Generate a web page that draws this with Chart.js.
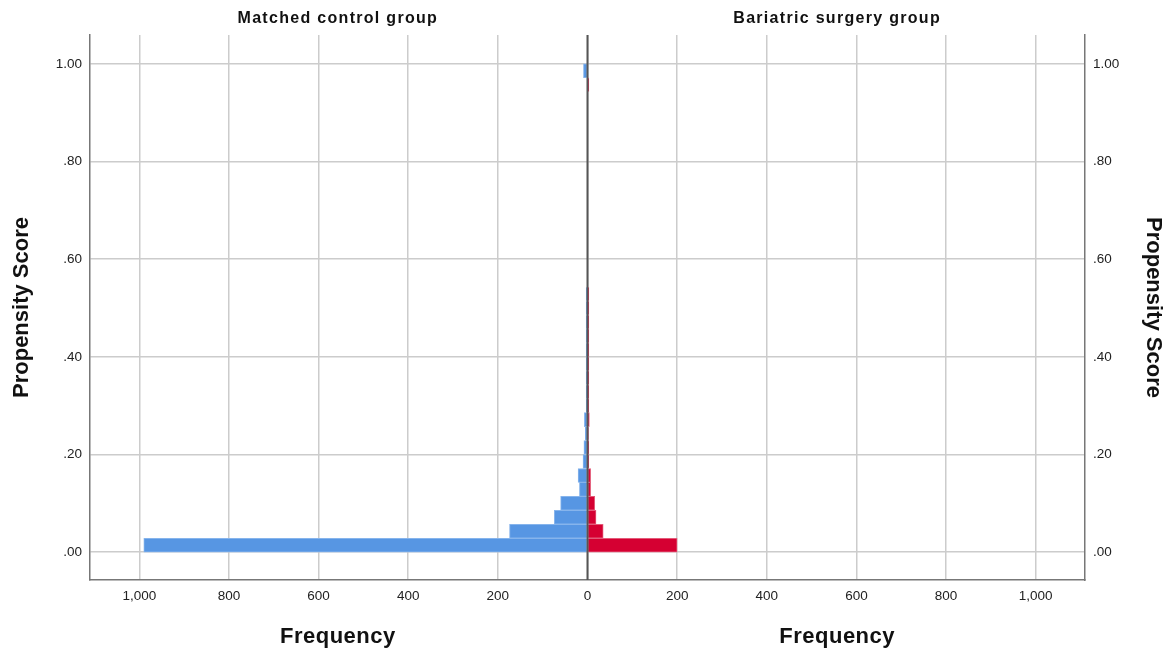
<!DOCTYPE html>
<html>
<head>
<meta charset="utf-8">
<script src="https://cdn.jsdelivr.net/npm/chart.js@4"></script>
<style>
  body { margin: 0; background: #fff; }
  #caja { width: 1175px; height: 658px; }
</style>
</head>
<body>
<div id="caja"><canvas id="grafica"></canvas></div>
<script>
// centros de los intervalos de propensity score (35 intervalos de 0 a 1)
var binCentros = [0.0143, 0.0429, 0.0714, 0.1000, 0.1286, 0.1571, 0.1857, 0.2143, 0.2429, 0.2714,
    0.3000, 0.3286, 0.3571, 0.3857, 0.4143, 0.4429, 0.4714, 0.5000, 0.5286, 0.5571,
    0.5857, 0.6143, 0.6429, 0.6714, 0.7000, 0.7286, 0.7571, 0.7857, 0.8143, 0.8429,
    0.8714, 0.9000, 0.9286, 0.9571, 0.9857];

// frecuencias del grupo control (izquierda)
var control = [990, 174, 74, 60, 18, 21, 10, 8, 5, 7,
    3, 3, 3, 3, 3, 3, 3, 3, 3, 0,
    0, 0, 0, 0, 0, 0, 0, 0, 0, 0,
    0, 0, 0, 0, 9];

// frecuencias del grupo cirugia bariatrica (derecha)
var cirugia = [200, 35, 19, 16, 7, 7, 3, 3, 2, 4,
    3, 3, 3, 3, 3, 3, 3, 3, 3, 0,
    0, 0, 0, 0, 0, 0, 0, 0, 0, 0,
    0, 0, 0, 3, 0];

// marcas de los ejes
var ticksX = [-1000, -800, -600, -400, -200, 0, 200, 400, 600, 800, 1000];
var ticksY = [0, 0.2, 0.4, 0.6, 0.8, 1.0];

var titulos = ['Matched control group', 'Bariatric surgery group'];
var tituloX = 'Frequency';
var tituloY = 'Propensity Score';

Chart.defaults.font.family = "'Liberation Sans', Arial, sans-serif";
Chart.defaults.color = '#222';

function puntos(valores, signo) {
    var arr = [];
    for (var i = 0; i < valores.length; i++) {
        arr.push({ x: signo * valores[i], y: binCentros[i] });
    }
    return arr;
}

function etiquetaY(v) {
    return v.toFixed(2).replace(/^0/, '');
}

// pone los ticks de la lista
function fijarTicks(lista) {
    return function (s) {
        s.ticks = lista.map(function (v) { return { value: v }; });
    };
}

// texto de los grupos, titulos de frecuencia y linea central
var extras = {
    id: 'extras',
    afterDatasetsDraw: function (chart) {
        var ctx = chart.ctx;
        var x = chart.scales.x;
        var area = chart.chartArea;
        var x0 = x.getPixelForValue(0);
        ctx.save();
        ctx.strokeStyle = '#555';
        ctx.lineWidth = 2;
        ctx.beginPath();
        ctx.moveTo(x0, area.top);
        ctx.lineTo(x0, area.bottom);
        ctx.stroke();
        ctx.restore();
    },
    afterDraw: function (chart) {
        var ctx = chart.ctx;
        var x = chart.scales.x;
        var izq = x.getPixelForValue(-557);
        var der = x.getPixelForValue(557);
        ctx.save();
        ctx.fillStyle = '#111';
        ctx.textAlign = 'center';
        ctx.textBaseline = 'middle';
        ctx.font = "bold 16px 'Liberation Sans', Arial, sans-serif";
        ctx.letterSpacing = '1.3px';
        ctx.fillText(titulos[0], izq, 19);
        ctx.fillText(titulos[1], der, 19);
        ctx.font = "bold 22px 'Liberation Sans', Arial, sans-serif";
        ctx.letterSpacing = '0.5px';
        ctx.fillText(tituloX, izq, 637);
        ctx.fillText(tituloX, der, 637);
        ctx.restore();
    }
};

var ctx = document.getElementById('grafica').getContext('2d');
var miGrafico = new Chart(ctx, {
    type: 'bar',
    data: {
        datasets: [
            {
                label: titulos[0],
                data: puntos(control, -1),
                backgroundColor: '#5796e3',
                borderColor: '#86b4ec',
                borderWidth: 1,
                grouped: false,
                barPercentage: 1,
                categoryPercentage: 1
            },
            {
                label: titulos[1],
                data: puntos(cirugia, 1),
                backgroundColor: '#d50032',
                borderColor: '#e35a78',
                borderWidth: 1,
                grouped: false,
                barPercentage: 1,
                categoryPercentage: 1
            }
        ]
    },
    options: {
        indexAxis: 'y',
        responsive: true,
        maintainAspectRatio: false,
        animation: false,
        layout: { padding: { top: 35, left: 0, right: 0, bottom: 0 } },
        plugins: { legend: { display: false }, tooltip: { enabled: false } },
        scales: {
            x: {
                type: 'linear',
                min: -1110,
                max: 1110,
                offset: false,
                afterFit: function (s) { s.height = 78; },
                afterBuildTicks: fijarTicks(ticksX),
                ticks: {
                    padding: 8,
                    font: { size: 13.5 },
                    autoSkip: false,
                    maxRotation: 0,
                    callback: function (v) { return Math.abs(v).toLocaleString('en-US'); }
                },
                grid: { color: '#cccccc', lineWidth: 1.5, drawTicks: false, offset: false },
                border: { display: true, color: '#777', width: 1.5 }
            },
            y: {
                type: 'linear',
                position: 'left',
                min: -0.057,
                max: 1.059,
                offset: false,
                afterFit: function (s) { s.width = 90; },
                afterBuildTicks: fijarTicks(ticksY),
                ticks: {
                    padding: 8,
                    font: { size: 13.5 },
                    autoSkip: false,
                    callback: etiquetaY
                },
                grid: { color: '#cccccc', lineWidth: 1.5, drawTicks: false, offset: false },
                border: { display: true, color: '#777', width: 1.5 },
                title: {
                    display: true,
                    text: tituloY,
                    font: { size: 22, weight: 'bold' },
                    color: '#111',
                    padding: { top: 9, bottom: 0 }
                }
            },
            y2: {
                type: 'linear',
                position: 'right',
                min: -0.057,
                max: 1.059,
                offset: false,
                afterFit: function (s) { s.width = 90; },
                afterBuildTicks: fijarTicks(ticksY),
                ticks: {
                    padding: 8,
                    font: { size: 13.5 },
                    autoSkip: false,
                    callback: etiquetaY
                },
                grid: { display: false, drawTicks: false, offset: false },
                border: { display: true, color: '#777', width: 1.5 },
                title: {
                    display: true,
                    text: tituloY,
                    font: { size: 22, weight: 'bold' },
                    color: '#111',
                    padding: { top: 9, bottom: 0 }
                }
            }
        }
    },
    plugins: [extras]
});
</script>
</body>
</html>
